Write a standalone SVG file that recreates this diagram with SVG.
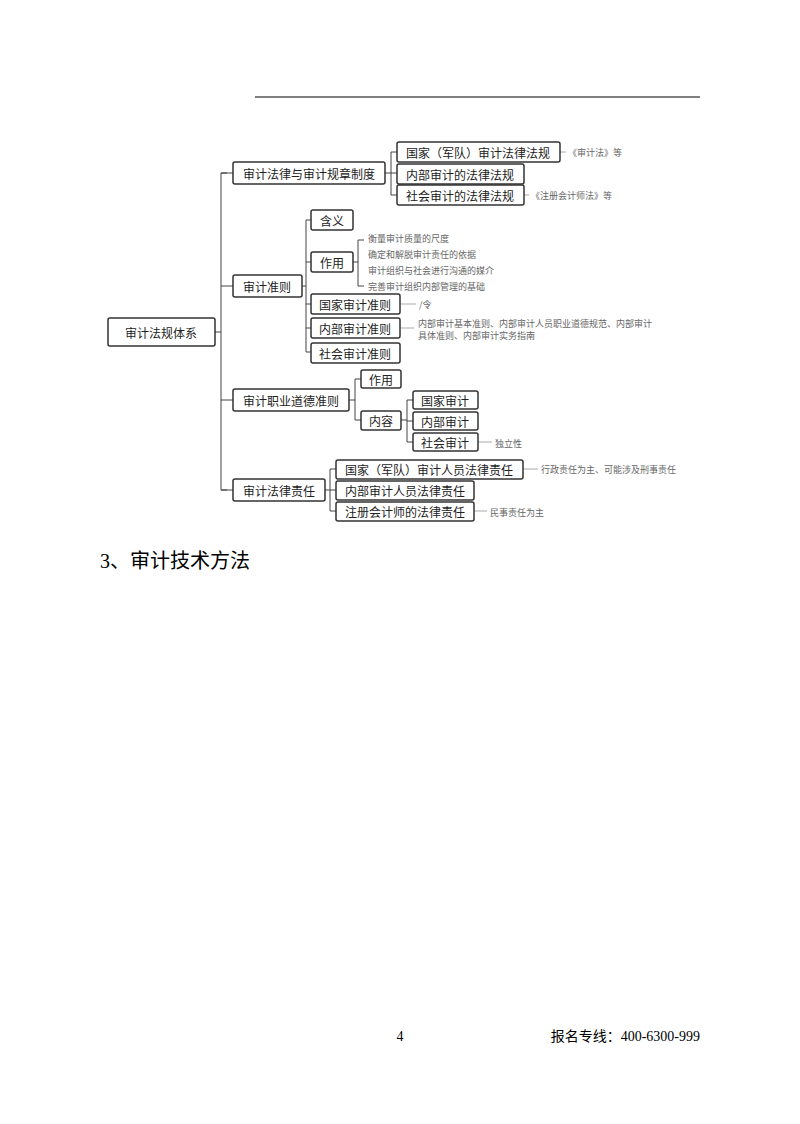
<svg xmlns="http://www.w3.org/2000/svg" width="800" height="1124" viewBox="0 0 800 1124">
<style>
.b{fill:#fff;stroke:#333;stroke-width:1.5}
.t{font-family:"Noto Sans CJK SC","Liberation Sans",sans-serif;font-size:12px;fill:#222;dominant-baseline:central}
.n{font-family:"Noto Sans CJK SC","Liberation Sans",sans-serif;font-size:9px;fill:#666;dominant-baseline:central}
.l{fill:none;stroke:#444;stroke-width:1}
.d{fill:none;stroke:#aaa;stroke-width:1}
</style>
<rect width="800" height="1124" fill="#fff"/>
<line x1="255" y1="97" x2="700" y2="97" stroke="#000" stroke-width="1"/>
<g id="connectors">
<path class="l" d="M215 332H221M227 173H221V490H227M221 173H233M221 286H233M221 400H233M221 490H233"/>
<path class="l" d="M385 173H391M397 152H391V195H397M391 173H397"/>
<path class="l" d="M302 286H306M311 220H306V352H311M306 262H311M306 304H311M306 328H311"/>
<path class="l" d="M353 262H358M364 240H358V286H364"/>
<path class="l" d="M349 400H355M361 379H355V420H361"/>
<path class="l" d="M401 420H407M413 400H407V442H413M407 421H413"/>
<path class="l" d="M325 490H330M336 469H330V511H336M330 490H336"/>
<path class="d" d="M560 152H566M524 195H529M400 304H416M400 328H414M478 442H492M523 469H538M474 511H487"/>
</g>
<g id="root"><rect class="b" x="108" y="318" width="107" height="28" rx="2"/><text class="t" x="161" y="332" text-anchor="middle">审计法规体系</text></g>
<g id="n1"><rect class="b" x="233" y="162" width="152" height="22" rx="2"/><text class="t" x="309" y="173" text-anchor="middle">审计法律与审计规章制度</text></g>
<g id="n1a"><rect class="b" x="397" y="142" width="163" height="20" rx="2"/><text class="t" x="478" y="152" text-anchor="middle">国家（军队）审计法律法规</text></g>
<g id="n1b"><rect class="b" x="397" y="164" width="127" height="20" rx="2"/><text class="t" x="460" y="174" text-anchor="middle">内部审计的法律法规</text></g>
<g id="n1c"><rect class="b" x="397" y="185" width="127" height="20" rx="2"/><text class="t" x="460" y="195" text-anchor="middle">社会审计的法律法规</text></g>
<text class="n" x="568" y="152">《审计法》等</text>
<text class="n" x="531" y="195">《注册会计师法》等</text>
<g id="n2"><rect class="b" x="233" y="275" width="69" height="22" rx="2"/><text class="t" x="267" y="286" text-anchor="middle">审计准则</text></g>
<g id="n2a"><rect class="b" x="311" y="210" width="42" height="20" rx="2"/><text class="t" x="332" y="220" text-anchor="middle">含义</text></g>
<g id="n2b"><rect class="b" x="311" y="252" width="42" height="20" rx="2"/><text class="t" x="332" y="262" text-anchor="middle">作用</text></g>
<text class="n" x="368" y="238">衡量审计质量的尺度</text>
<text class="n" x="368" y="254">确定和解脱审计责任的依据</text>
<text class="n" x="368" y="270">审计组织与社会进行沟通的媒介</text>
<text class="n" x="368" y="286">完善审计组织内部管理的基础</text>
<g id="n2c"><rect class="b" x="311" y="294" width="89" height="20" rx="2"/><text class="t" x="355" y="304" text-anchor="middle">国家审计准则</text></g>
<text class="n" x="419" y="304">/令</text>
<g id="n2d"><rect class="b" x="311" y="318" width="89" height="20" rx="2"/><text class="t" x="355" y="328" text-anchor="middle">内部审计准则</text></g>
<text class="n" x="418" y="323">内部审计基本准则、内部审计人员职业道德规范、内部审计</text>
<text class="n" x="418" y="335">具体准则、内部审计实务指南</text>
<g id="n2e"><rect class="b" x="311" y="343" width="89" height="20" rx="2"/><text class="t" x="355" y="353" text-anchor="middle">社会审计准则</text></g>
<g id="n3"><rect class="b" x="233" y="389" width="116" height="22" rx="2"/><text class="t" x="291" y="400" text-anchor="middle">审计职业道德准则</text></g>
<g id="n3a"><rect class="b" x="361" y="370" width="40" height="18" rx="2"/><text class="t" x="381" y="379" text-anchor="middle">作用</text></g>
<g id="n3b"><rect class="b" x="361" y="411" width="40" height="19" rx="2"/><text class="t" x="381" y="420" text-anchor="middle">内容</text></g>
<g id="n3b1"><rect class="b" x="413" y="391" width="65" height="18" rx="2"/><text class="t" x="445" y="400" text-anchor="middle">国家审计</text></g>
<g id="n3b2"><rect class="b" x="413" y="412" width="65" height="18" rx="2"/><text class="t" x="445" y="421" text-anchor="middle">内部审计</text></g>
<g id="n3b3"><rect class="b" x="413" y="433" width="65" height="18" rx="2"/><text class="t" x="445" y="442" text-anchor="middle">社会审计</text></g>
<text class="n" x="495" y="443">独立性</text>
<g id="n4"><rect class="b" x="233" y="479" width="92" height="22" rx="2"/><text class="t" x="279" y="490" text-anchor="middle">审计法律责任</text></g>
<g id="n4a"><rect class="b" x="336" y="460" width="187" height="19" rx="2"/><text class="t" x="429" y="469" text-anchor="middle">国家（军队）审计人员法律责任</text></g>
<g id="n4b"><rect class="b" x="336" y="481" width="138" height="19" rx="2"/><text class="t" x="405" y="490" text-anchor="middle">内部审计人员法律责任</text></g>
<g id="n4c"><rect class="b" x="336" y="502" width="138" height="19" rx="2"/><text class="t" x="405" y="511" text-anchor="middle">注册会计师的法律责任</text></g>
<text class="n" x="541" y="469">行政责任为主、可能涉及刑事责任</text>
<text class="n" x="490" y="512">民事责任为主</text>
<text x="100" y="568" font-family="Liberation Serif,Noto Sans CJK SC,serif" font-size="20" fill="#000">3、审计技术方法</text>
<text x="400" y="1041" font-family="Liberation Serif,serif" font-size="14" fill="#000" text-anchor="middle">4</text>
<text x="700" y="1041" font-family="Liberation Serif,Noto Sans CJK SC,serif" font-size="14" fill="#000" text-anchor="end">报名专线：400-6300-999</text>
</svg>
